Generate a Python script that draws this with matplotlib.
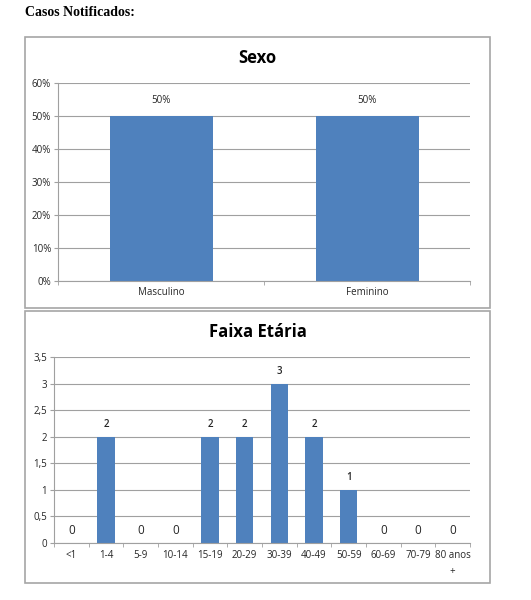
import matplotlib
matplotlib.use("Agg")
import matplotlib.pyplot as plt
from matplotlib.patches import Rectangle
from matplotlib.ticker import FixedLocator

sexo_cats = ["Masculino", "Feminino"]
sexo_vals = [50, 50]
sexo_labels = ["50%", "50%"]
sexo_yticks = [0, 10, 20, 30, 40, 50, 60]

faixa_cats = ["<1", "1-4", "5-9", "10-14", "15-19", "20-29", "30-39", "40-49", "50-59", "60-69", "70-79", "80 anos\n+"]
faixa_vals = [0, 2, 0, 0, 2, 2, 3, 2, 1, 0, 0, 0]
faixa_yticks = [0, 0.5, 1, 1.5, 2, 2.5, 3, 3.5]
faixa_ytick_labels = ["0", "0,5", "1", "1,5", "2", "2,5", "3", "3,5"]

BAR = "#4F81BD"
GRID = "#A0A0A0"
TXT = "#262626"
FONT = "Open Sans"

W, H = 531, 600
fig = plt.figure(figsize=(W / 100, H / 100), dpi=100)

def fx(px):
    return px / W

def fy(py):
    return 1 - py / H

fig.text(fx(25), fy(12), "Casos Notificados:", family="Liberation Serif", weight="bold",
         fontsize=10, ha="left", va="center", color="black")

# boxes
for (x0, y0, x1, y1) in [(25, 37, 490, 308), (25, 311, 490, 583)]:
    fig.patches.append(Rectangle((fx(x0), fy(y1)), fx(x1) - fx(x0), fy(y0) - fy(y1),
                                 transform=fig.transFigure, fill=False, edgecolor="#A6A6A6",
                                 linewidth=1.2))

def style_ax(ax):
    for s in ["top", "right"]:
        ax.spines[s].set_visible(False)
    ax.spines["left"].set_color(GRID)
    ax.spines["bottom"].set_color(GRID)
    ax.yaxis.grid(True, color=GRID, linewidth=0.8)
    ax.set_axisbelow(True)
    ax.tick_params(axis="y", length=3, color=GRID, labelsize=7, labelcolor=TXT, pad=2)
    for lab in ax.get_yticklabels():
        lab.set_family(FONT)

# Sexo
ax1 = fig.add_axes([fx(58), fy(281), fx(470) - fx(58), fy(83) - fy(281)])
x1 = list(range(len(sexo_cats)))
ax1.bar(x1, sexo_vals, width=0.5, color=BAR, zorder=2)
ax1.set_xlim(-0.5, len(sexo_cats) - 0.5)
ax1.set_ylim(0, 60)
ax1.set_yticks(sexo_yticks)
ax1.set_yticklabels([f"{v}%" for v in sexo_yticks])
ax1.set_xticks(x1)
ax1.set_xticklabels(sexo_cats, family=FONT, fontsize=7, color=TXT)
ax1.tick_params(axis="x", length=0, pad=4)
ax1.xaxis.set_minor_locator(FixedLocator([-0.5, 0.5, 1.5]))
ax1.tick_params(axis="x", which="minor", length=3, color=GRID)
style_ax(ax1)
for xi, v, lab in zip(x1, sexo_vals, sexo_labels):
    ax1.text(xi, v + 3, lab, ha="center", va="bottom", family=FONT, fontsize=7, color=TXT)
fig.text(0.5 * (fx(25) + fx(490)), fy(58), "Sexo", ha="center", va="center",
         family=FONT, weight="bold", fontsize=12, color="black")

# Faixa Etaria
ax2 = fig.add_axes([fx(54), fy(543), fx(470) - fx(54), fy(357) - fy(543)])
x2 = list(range(len(faixa_cats)))
ax2.bar(x2, faixa_vals, width=0.5, color=BAR, zorder=2)
ax2.set_xlim(-0.5, len(faixa_cats) - 0.5)
ax2.set_ylim(0, 3.5)
ax2.set_yticks(faixa_yticks)
ax2.set_yticklabels(faixa_ytick_labels)
ax2.set_xticks(x2)
ax2.set_xticklabels(faixa_cats, family=FONT, fontsize=7, color=TXT, linespacing=1.6, va="top")
ax2.tick_params(axis="x", length=0, pad=5)
ax2.xaxis.set_minor_locator(FixedLocator([i - 0.5 for i in range(len(faixa_cats) + 1)]))
ax2.tick_params(axis="x", which="minor", length=3, color=GRID)
style_ax(ax2)
for xi, v in zip(x2, faixa_vals):
    if v == 0:
        ax2.text(xi, 0.12, str(v), ha="center", va="bottom", family=FONT, fontsize=8.5,
                 color=TXT)
    else:
        ax2.text(xi, v + 0.12, str(v), ha="center", va="bottom", family=FONT, fontsize=7,
                 weight="semibold", color=TXT)
fig.text(0.5 * (fx(25) + fx(490)), fy(332), "Faixa Etária", ha="center", va="center",
         family=FONT, weight="bold", fontsize=12, color="black")

fig.savefig("out.png", dpi=100, facecolor="white")
